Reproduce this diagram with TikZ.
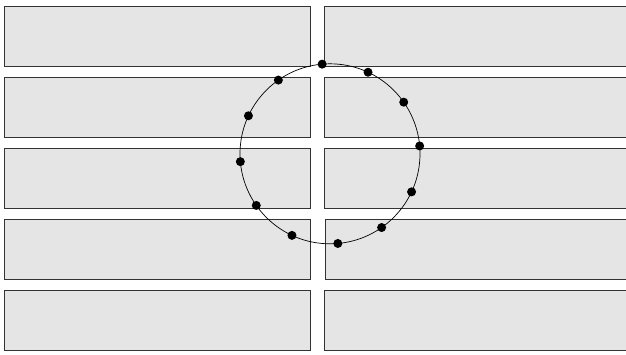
\documentclass[tikz,border=0pt]{standalone}
\usetikzlibrary{calc}
\definecolor{boxfill}{HTML}{E5E5E5}
\definecolor{boxline}{HTML}{333333}
\tikzset{
  panel/.style={draw=boxline, fill=boxfill, line width=0.9pt, inner sep=0pt, anchor=north west},
  ringdot/.style={circle, fill=black, inner sep=0pt, minimum size=9pt},
  ringline/.style={draw=black, line width=0.7pt}
}
\begin{document}
\begin{tikzpicture}[x=1pt,y=-1pt]
\clip (0,0) rectangle (626,354);
\fill[white] (0,0) rectangle (626,354);
% left column
\node[panel, minimum width=306pt, minimum height=60.3pt] (l1) at (3.5,6) {};
\node[panel, minimum width=306pt, minimum height=60pt] (l2) at (3.5,77) {};
\node[panel, minimum width=306pt, minimum height=60.6pt] (l3) at (3.5,147.7) {};
\node[panel, minimum width=306pt, minimum height=60.6pt] (l4) at (4.3,218.7) {};
\node[panel, minimum width=306pt, minimum height=60.3pt] (l5) at (3.5,289.7) {};
% right column
\node[panel, minimum width=306pt, minimum height=60.3pt] (r1) at (324.3,6) {};
\node[panel, minimum width=306pt, minimum height=60pt] (r2) at (324.3,77) {};
\node[panel, minimum width=306pt, minimum height=60.6pt] (r3) at (324.3,147.7) {};
\node[panel, minimum width=306pt, minimum height=60.6pt] (r4) at (325.3,218.7) {};
\node[panel, minimum width=306pt, minimum height=60.3pt] (r5) at (324.3,289.7) {};
% ring
\coordinate (c) at (330,153.8);
\draw[ringline] (c) circle [radius=90pt];
\foreach \i in {0,...,11}{
  \node[ringdot] (d\i) at ($(c)+({5+30*\i}:90pt)$) {};
}
\end{tikzpicture}
\end{document}
